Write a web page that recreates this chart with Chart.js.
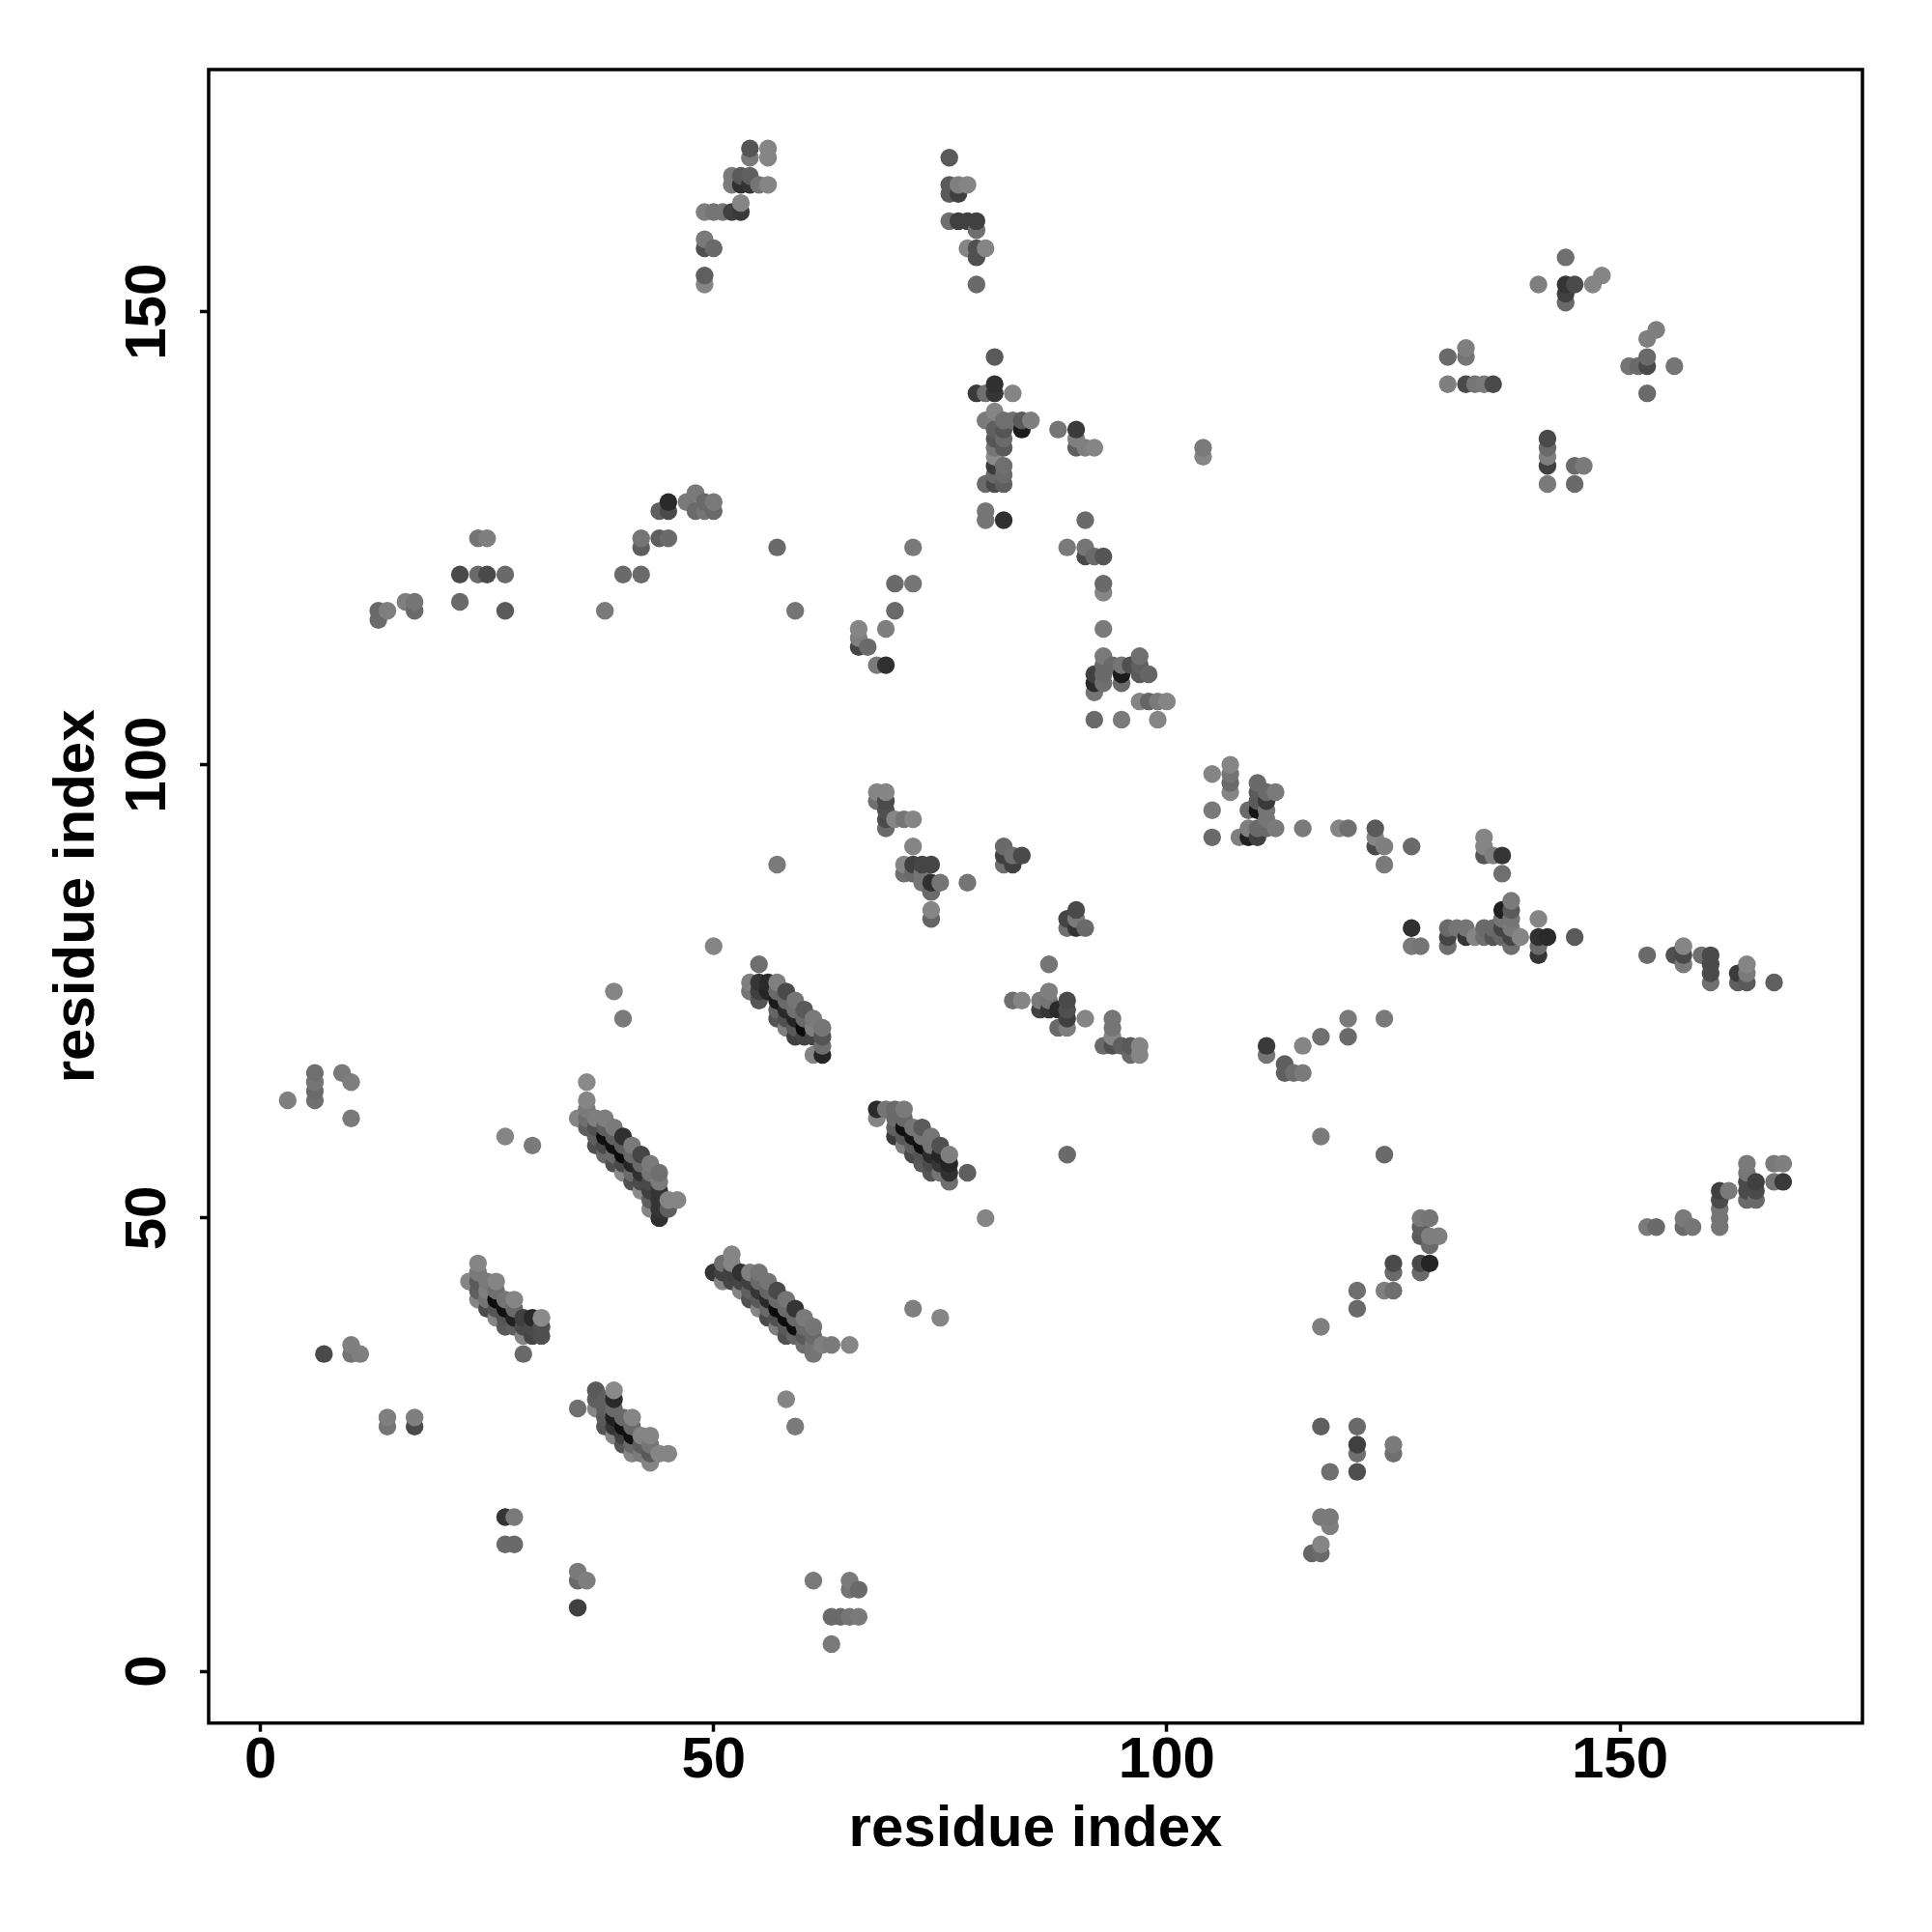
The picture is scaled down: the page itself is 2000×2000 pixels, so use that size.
<!DOCTYPE html>
<html lang="en">
<head>
<meta charset="UTF-8">
<title>residue contact map</title>
<script src="https://cdn.jsdelivr.net/npm/chart.js"></script>
<style>
    html, body { margin: 0; padding: 0; background: #fff; }
    canvas { display: block; }
</style>
</head>
<body>
<canvas id="chart" width="2000" height="2000"></canvas>
<script>
// contacts, one line per group, x / y / grey level in the same order
var residueX = [
    3,6,6,6,6,9,10,10,7,10,10,11,14,14,17,17,
    13,13,14,16,17,17,22,22,24,25,27,27,24,25,38,40,42,42,42,44,45,44,45,45,47,48,48,49,49,50,50,57,59,
    70,72,72,70,69,66,66,66,67,68,69,
    57,39,40,27,30,72,75,58,59,27,28,27,28,35,35,36,35,61,65,65,66,63,64,65,66,63,89,117,124,50,80,
    35,36,36,36,36,36,37,37,37,37,38,38,38,38,38,39,39,39,39,39,40,40,40,40,40,41,41,41,41,41,42,42,42,42,42,43,43,43,43,43,43,44,44,44,44,44,44,45,45,46,
    23,24,24,24,24,24,25,25,25,25,26,26,26,26,26,27,27,27,27,28,28,28,28,29,29,29,29,30,30,30,31,31,31,
    35,37,37,37,38,38,38,38,39,39,39,39,39,39,40,40,40,40,41,41,41,41,41,42,42,42,43,43,43,43,44,45,
    50,51,51,51,52,52,52,52,53,53,53,54,54,54,54,55,55,55,55,55,56,56,56,56,56,57,57,57,57,57,58,58,58,58,58,59,59,59,59,60,60,60,60,61,61,61,61,62,63,65,
    54,54,55,55,55,55,56,56,57,57,57,57,57,58,58,58,58,58,59,59,59,59,59,60,60,60,60,61,61,61,61,62,62,62,62,
    68,68,69,70,70,70,70,71,71,71,71,71,72,72,72,72,73,73,73,73,73,74,74,74,74,74,75,75,75,75,76,76,76,76,78,
    83,84,86,86,87,87,87,87,88,88,89,89,89,89,91,94,94,94,93,94,95,96,97,97,96,
    68,69,68,69,69,69,69,70,71,72,72,71,71,72,73,74,72,73,74,73,74,74,75,78,74,74,
    82,82,82,83,83,84,90,89,89,90,90,91,
    111,111,113,113,114,115,115,117,120,120,124,
    105,107,107,107,107,105,105,110,110,109,110,110,111,111,112,111,111,108,109,109,110,110,111,112,115,119,120,123,123,123,124,124,127,
    81,79,80,81,81,83,81,80,82,83,84,85,84,81,81,82,82,82,81,81,81,82,82,81,81,82,80,80,80,82,
    88,90,90,90,91,92,104,104,91,89,91,91,92,93,93,93,93,93,93,93,93,92,92,92,94,95,95,95,96,97,97,97,98,97,98,99,100,92,95,99,
    49,49,49,49,50,49,50,51,52,53,53,52,52,53,53,54,54,55,56,54,54,56,56,
    76,76,76,77,77,78,76,77,78,79,79,78,79,79,80,79,
    135,135,135,136,137,137,127,127,128,131,131,131,132,133,133,134,135,135,136,136,137,137,137,137,138,138,138,138,138,138,139,141,141,141,141,142,145,
    153,156,157,157,157,159,160,160,160,160,163,163,164,164,164,167,
    141,144,144,144,144,145,147,148,131,133,133,131,133,134,135,136,154,153,153,153,151,152,156,153,142,142,142,142,142,145,146,145,
    117,121,121,124,125,125,125,128,128,129,128,129,128,129,130,129,128,
    117,121,121,121,121,118,125,125,117,118,118,117,117,116,
    153,154,157,157,158,161,161,161,161,161,162,164,164,164,164,164,165,165,165,167,168,167,168
];
var residueY = [
    63,66,65,64,63,66,65,61,35,36,35,35,28,27,28,27,
    117,116,117,118,118,117,118,121,121,121,121,117,125,125,117,121,121,125,124,125,125,128,129,128,129,130,128,129,128,129,128,124,117,
    120,120,124,117,115,115,114,113,113,111,111,
    89,75,72,59,58,40,39,30,27,17,17,14,14,11,10,10,7,10,10,9,9,6,6,6,6,3,57,59,57,80,50,
    61,60,61,62,63,65,58,59,60,61,57,58,59,60,61,56,57,58,59,60,55,56,57,58,59,54,55,56,57,58,53,54,55,56,57,51,52,53,54,55,56,50,51,52,53,54,55,51,52,52,
    43,41,42,43,44,45,40,41,42,43,39,40,41,42,43,38,39,40,41,38,39,40,41,35,37,38,39,37,38,39,37,38,39,
    29,29,30,31,27,28,29,30,26,27,28,29,30,31,25,26,27,28,24,25,26,27,28,24,25,26,23,24,25,26,24,24,
    44,43,44,45,43,44,45,46,42,43,44,41,42,43,44,40,41,42,43,44,39,40,41,42,43,38,39,40,41,42,37,38,39,40,41,37,38,39,40,36,37,38,39,35,36,37,38,36,36,36,
    75,76,74,75,76,78,75,76,72,73,74,75,76,71,72,73,74,75,70,71,72,73,74,70,71,72,73,68,70,71,72,68,69,70,71,
    61,62,62,59,60,61,62,58,59,60,61,62,57,58,59,60,56,57,58,59,60,55,56,57,58,59,55,56,57,58,54,55,56,57,55,
    74,74,74,73,78,75,74,73,73,71,74,73,72,71,72,72,71,70,69,69,69,69,69,68,68,
    97,97,96,96,95,94,93,94,94,94,91,89,88,89,89,89,88,88,87,87,86,86,87,87,84,83,
    91,90,89,90,89,90,84,83,82,83,82,82,
    69,68,67,66,66,66,69,70,72,70,72,
    99,100,99,98,97,95,92,98,97,95,96,95,97,96,97,95,94,92,93,92,93,92,93,93,93,93,93,93,92,91,91,89,91,
    145,141,141,142,141,141,139,138,138,138,138,138,137,137,136,137,136,135,135,134,133,133,132,132,131,131,131,128,127,127,
    137,137,136,135,135,135,135,134,127,124,124,123,123,123,120,119,115,112,111,110,109,110,109,108,111,111,110,109,111,112,111,110,110,107,107,107,107,105,105,105,
    153,154,157,158,157,161,161,161,161,161,162,165,164,165,164,165,164,164,164,168,167,168,167,
    167,164,163,164,163,164,160,160,160,160,159,157,157,156,157,153,
    92,91,90,90,90,88,82,80,80,82,81,80,82,82,81,81,82,81,82,81,84,83,82,81,85,84,83,82,81,80,81,83,81,80,79,81,81,
    79,79,80,79,78,79,79,78,77,76,77,76,78,77,76,76,
    153,156,153,152,151,153,153,154,145,146,145,142,142,142,142,142,148,147,145,144,144,144,144,141,136,135,134,133,131,133,133,131,
    38,42,40,42,42,45,44,44,45,45,50,50,49,48,48,47,48,
    27,27,25,24,22,22,25,24,17,17,16,14,13,13,
    49,49,50,49,49,53,52,51,50,49,53,56,55,54,53,52,54,53,52,56,56,54,54
];
var greyLevel = [
    120,105,110,100,105,115,120,115,70,120,110,120,120,110,120,70,
    100,100,120,120,110,100,100,70,100,70,100,85,110,120,115,100,100,110,90,90,100,90,40,70,115,115,100,100,110,115,100,100,110,
    100,110,115,100,120,125,120,65,100,115,45,
    115,125,115,125,115,120,125,125,115,50,115,100,100,115,100,120,60,115,115,110,100,100,100,110,115,115,100,115,100,125,125,
    125,90,105,115,125,130,75,90,75,120,100,70,15,90,120,75,100,15,90,115,130,70,10,90,45,75,100,35,100,115,130,70,45,100,65,125,90,60,70,110,115,45,50,50,50,115,105,90,125,125,
    125,125,90,85,115,125,70,110,120,115,125,80,12,105,125,85,80,15,110,90,30,100,125,100,125,70,60,65,70,40,75,75,130,
    105,125,90,85,80,85,90,90,125,50,30,100,40,130,80,60,15,100,125,100,15,100,125,115,90,125,125,85,110,125,125,125,
    50,125,60,105,65,60,125,125,125,65,45,75,90,60,120,125,85,50,100,110,70,100,40,95,110,120,75,10,100,70,75,85,12,100,110,95,12,100,50,105,85,100,115,110,110,100,110,120,115,125,
    110,120,80,60,50,105,35,40,80,95,25,100,120,120,75,40,100,70,60,85,35,105,110,65,12,100,85,125,65,120,115,35,105,80,110,
    125,40,110,55,90,100,100,120,85,15,100,115,70,90,20,110,85,80,15,110,85,80,70,40,110,110,110,50,35,75,105,45,35,120,90,
    105,125,115,60,110,120,110,50,40,100,70,75,60,120,125,110,110,125,100,75,90,85,125,125,100,
    125,125,105,70,75,70,100,125,110,125,125,125,105,60,65,65,100,110,45,110,65,100,110,110,125,95,
    100,60,105,105,60,70,70,65,105,115,50,100,
    55,110,90,90,105,115,125,105,115,100,115,
    125,125,110,100,125,115,100,100,85,100,85,20,100,55,115,110,110,120,120,30,100,60,100,115,115,125,105,85,125,70,120,115,100,
    85,55,105,45,50,125,125,115,105,105,85,120,25,90,80,80,100,85,110,130,55,105,100,100,70,90,100,110,110,45,
    110,55,120,90,120,125,115,125,100,115,110,70,100,80,100,125,115,115,100,100,105,60,40,110,100,110,25,100,75,105,90,85,95,125,95,115,125,100,115,125,
    125,90,75,115,100,120,110,110,60,55,125,115,115,85,45,90,50,110,125,80,115,125,125,
    85,85,85,120,60,125,105,60,60,60,105,125,75,75,125,100,
    125,125,80,120,50,105,45,115,110,100,65,105,110,110,50,125,100,105,100,80,30,110,65,95,115,85,110,115,65,105,125,125,45,100,50,40,85,
    100,75,125,70,115,105,70,70,70,105,55,90,125,115,85,90,
    120,105,50,60,100,70,125,125,100,120,110,120,70,110,115,70,120,120,100,70,110,100,110,100,70,100,120,60,115,100,115,100,
    120,105,100,120,105,70,100,100,70,35,115,110,90,120,120,100,85,
    90,100,60,105,75,105,115,105,115,115,120,125,100,95,
    115,100,115,100,110,60,70,110,110,110,115,115,110,70,70,100,60,70,100,115,120,110,55
];
var tickValues = [0, 50, 100, 150];
var axisTitle = 'residue index';

if (residueX.length !== residueY.length || residueX.length !== greyLevel.length) {
    console.error('length mismatch', residueX.length, residueY.length, greyLevel.length);
}

// points are stacked by x then y, later ones cover earlier ones
var order = residueX.map(function(_, i) { return i; });
order.sort(function(a, b) {
    return residueX[a] - residueX[b] || residueY[a] - residueY[b];
});
var points = order.map(function(i) { return { x: residueX[i], y: residueY[i] }; });
var colours = order.map(function(i) {
    var g = Math.round(greyLevel[i] * 1.06);
    return 'rgb(' + g + ',' + g + ',' + g + ')';
});

var frame = {
    id: 'frame',
    afterDraw: function(chart) {
        var a = chart.chartArea;
        var ctx = chart.ctx;
        ctx.save();
        ctx.strokeStyle = '#000';
        ctx.lineWidth = 3.5;
        ctx.strokeRect(a.left, a.top, a.right - a.left, a.bottom - a.top);
        ctx.restore();
    }
};

function fixedTicks(axis) {
    axis.ticks = tickValues.map(function(v) { return { value: v }; });
}

var font = 'Liberation Sans';

new Chart(document.getElementById('chart').getContext('2d'), {
    type: 'scatter',
    data: {
        datasets: [{
            data: points,
            pointBackgroundColor: colours,
            pointBorderWidth: 0,
            pointRadius: 9.2,
            pointHoverRadius: 9.2
        }]
    },
    plugins: [frame],
    options: {
        responsive: false,
        animation: false,
        layout: { padding: { top: 72, right: 72, left: 0, bottom: 0 } },
        plugins: { legend: { display: false }, tooltip: { enabled: false } },
        scales: {
            x: {
                type: 'linear',
                min: -5.72,
                max: 176.75,
                afterBuildTicks: fixedTicks,
                afterFit: function(axis) { axis.height = 216.3; },
                grid: { drawOnChartArea: false, drawTicks: true, tickLength: 9, tickWidth: 3.5, tickColor: '#000' },
                border: { display: false },
                ticks: { color: '#000', padding: -5, maxRotation: 0, font: { family: font, weight: 'bold', size: 60 } },
                title: { display: true, text: axisTitle, color: '#000', padding: { top: 0, bottom: 70 }, font: { family: font, weight: 'bold', size: 60 } }
            },
            y: {
                type: 'linear',
                min: -5.72,
                max: 176.72,
                afterBuildTicks: fixedTicks,
                afterFit: function(axis) { axis.width = 216; },
                grid: { drawOnChartArea: false, drawTicks: true, tickLength: 9, tickWidth: 3.5, tickColor: '#000' },
                border: { display: false },
                ticks: { color: '#000', padding: 2, minRotation: 90, maxRotation: 90, crossAlign: 'center', font: { family: font, weight: 'bold', size: 60 } },
                title: { display: true, text: axisTitle, color: '#000', padding: { top: 44, bottom: 0 }, font: { family: font, weight: 'bold', size: 60 } }
            }
        }
    }
});
</script>
</body>
</html>
